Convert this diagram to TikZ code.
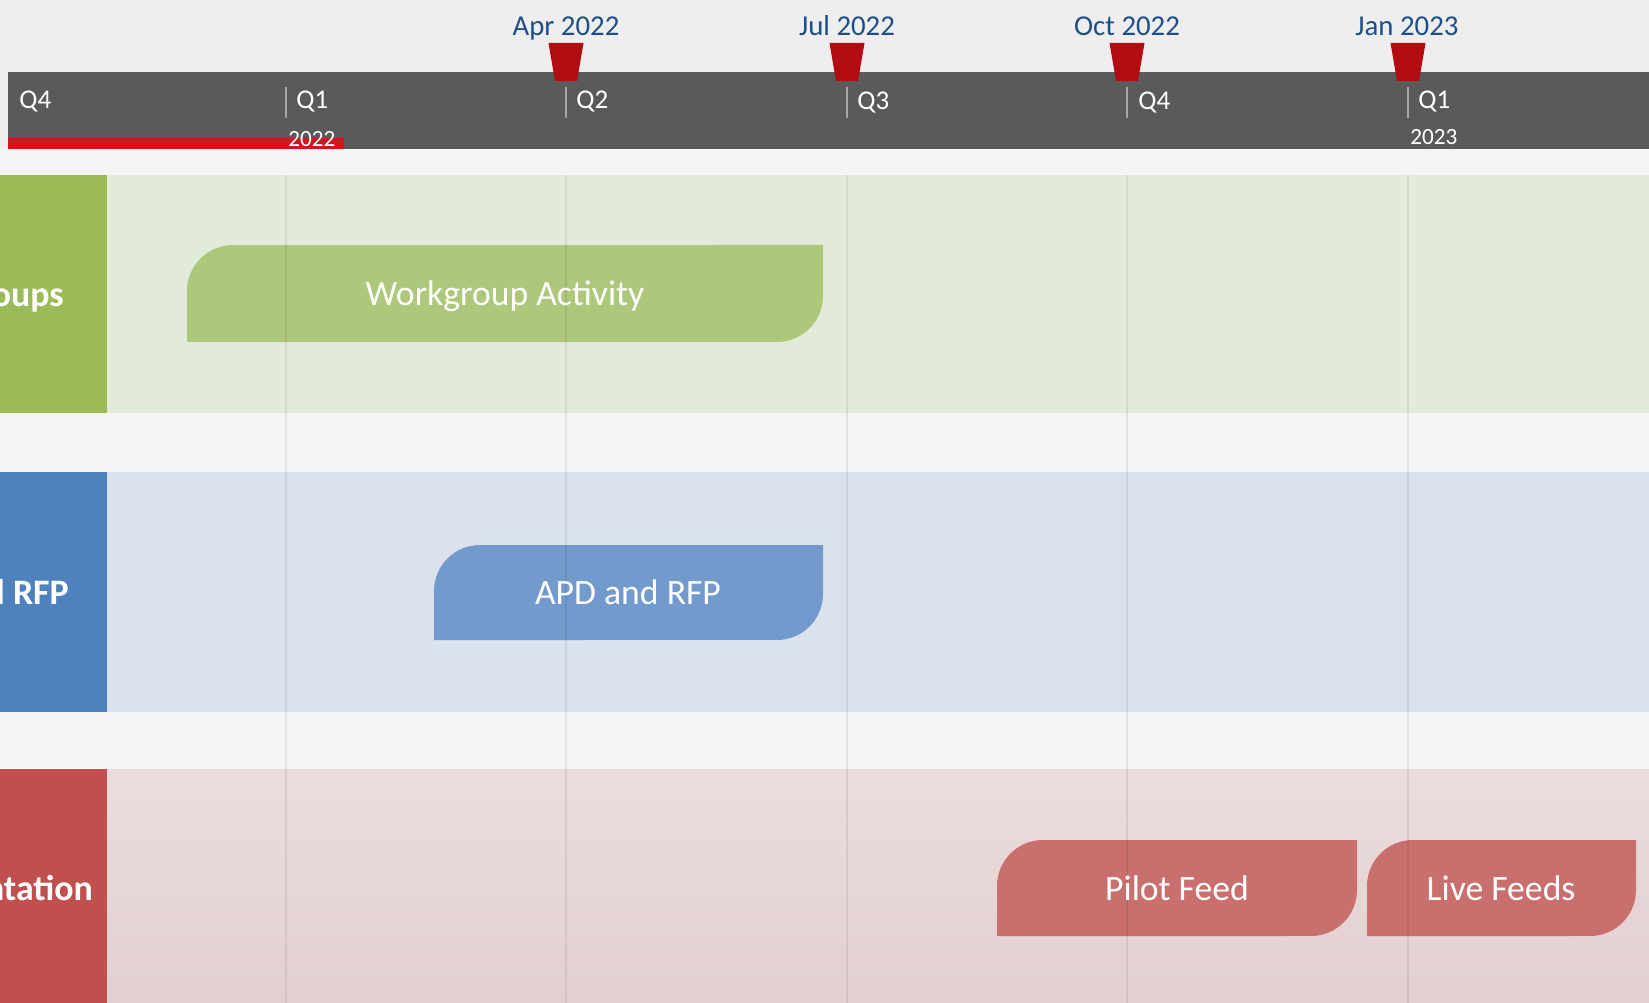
\documentclass[tikz,border=0pt]{standalone}
\usepackage{fontspec}
\setmainfont{Carlito}
\usepackage{xcolor}

\definecolor{bgtop}{HTML}{EEEEEE}
\definecolor{bggap}{HTML}{F4F4F4}
\definecolor{barback}{HTML}{5A5A5A}
\definecolor{tickgray}{HTML}{A6A6A6}
\definecolor{progred}{HTML}{D2151B}
\definecolor{markred}{HTML}{B20C12}
\definecolor{mslabel}{HTML}{1F4E86}
\definecolor{greenhead}{HTML}{9BBB59}
\definecolor{greenlane}{HTML}{E2EBDA}
\definecolor{greentask}{HTML}{ADC77B}
\definecolor{bluehead}{HTML}{4F81BD}
\definecolor{bluelane}{HTML}{DCE2ED}
\definecolor{bluetask}{HTML}{729ACD}
\definecolor{redhead}{HTML}{C0504D}
\definecolor{redlanetop}{HTML}{ECDCDC}
\definecolor{redlanebot}{HTML}{E2D0D0}
\definecolor{redtask}{HTML}{C9706E}

\tikzset{
  quarter/.style={text=white, font=\fontsize{15.4}{18}\selectfont, anchor=west, inner sep=0pt},
  yearlbl/.style={text=white, font=\fontsize{13.2}{16}\selectfont, anchor=west, inner sep=0pt},
  mslbl/.style={text=mslabel, font=\fontsize{16.4}{20}\selectfont, inner sep=0pt, anchor=base},
  lanelbl/.style={text=white, font=\bfseries\fontsize{20.4}{24}\selectfont, inner sep=0pt},
  tasklbl/.style={text=white, font=\fontsize{20.3}{24}\selectfont, inner sep=0pt},
  quartertick/.style={tickgray, line width=1.1pt},
  gridline/.style={black, opacity=0.07, line width=0.85pt},
  marker/.style={fill=markred}
}

% task bar: colour, left, right, top, bottom
\newcommand{\taskbar}[5]{%
  \fill[#1] (#2,#5) -- (#2,#4-46) arc[start angle=180, end angle=90, radius=0.92cm]
    -- (#3,#4) -- (#3,#5+46) arc[start angle=0, end angle=-90, radius=0.92cm] -- cycle;}

\begin{document}
\begin{tikzpicture}[x=0.02cm, y=0.02cm]
\useasboundingbox (0,0) rectangle (1649,-1003);
\clip (0,0) rectangle (1649,-1003);

% background
\fill[bgtop] (0,0) rectangle (1649,-1003);
\fill[bggap] (0,-149) rectangle (1649,-1003);

% time scale
\fill[barback] (8,-72) rectangle (1649,-149);
\fill[progred] (8,-138) rectangle (344,-149);
\draw[quartertick] (286,-87) -- (286,-118);
\draw[quartertick] (566,-87) -- (566,-118);
\draw[quartertick] (847,-87) -- (847,-118);
\draw[quartertick] (1127,-87) -- (1127,-118);
\draw[quartertick] (1408,-87) -- (1408,-118);
\node[quarter] (q4a) at (19,-102) {Q4};
\node[quarter] (q1a) at (296,-102) {Q1};
\node[quarter] (q2) at (576,-102) {Q2};
\node[quarter] (q3) at (857,-103) {Q3};
\node[quarter] (q4b) at (1138,-103) {Q4};
\node[quarter] (q1b) at (1418,-102) {Q1};
\node[yearlbl] (y2022) at (288,-139) {2022};
\node[yearlbl] (y2023) at (1410,-137) {2023};

% milestones
\node[mslbl] (apr) at (566,-36) {Apr 2022};
\node[mslbl] (jul) at (847,-36) {Jul 2022};
\node[mslbl] (oct) at (1127,-36) {Oct 2022};
\node[mslbl] (jan) at (1407,-36) {Jan 2023};
\fill[marker] (548.5,-43) -- (583.5,-43) -- (577,-81) -- (555,-81) -- cycle;
\fill[marker] (829.5,-43) -- (864.5,-43) -- (858,-81) -- (836,-81) -- cycle;
\fill[marker] (1109.5,-43) -- (1144.5,-43) -- (1138,-81) -- (1116,-81) -- cycle;
\fill[marker] (1390.5,-43) -- (1425.5,-43) -- (1419,-81) -- (1397,-81) -- cycle;

% swimlanes
\fill[greenlane] (107,-175) rectangle (1649,-413);
\fill[greenhead] (0,-175) rectangle (107,-413);
\fill[bluelane] (107,-472) rectangle (1649,-712);
\fill[bluehead] (0,-472) rectangle (107,-712);
\shade[top color=redlanetop, bottom color=redlanebot] (107,-769) rectangle (1649,-1003);
\fill[redhead] (0,-769) rectangle (107,-1003);
\node[lanelbl] (wg) at (-27,-297) {Workgroups};
\node[lanelbl] (apdrfp) at (-27,-592) {APD and RFP};
\node[lanelbl] (impl) at (-27,-891) {Implementation};

% tasks
\taskbar{greentask}{187}{823}{-245}{-342}
\taskbar{bluetask}{434}{823}{-545}{-640}
\taskbar{redtask}{997}{1357}{-840}{-936}
\taskbar{redtask}{1367}{1636}{-840}{-936}

% quarter grid
\draw[gridline] (286,-175) -- (286,-1003);
\draw[gridline] (566,-175) -- (566,-1003);
\draw[gridline] (847,-175) -- (847,-1003);
\draw[gridline] (1127,-175) -- (1127,-1003);
\draw[gridline] (1408,-175) -- (1408,-1003);

\node[tasklbl] (wgact) at (505,-296) {Workgroup Activity};
\node[tasklbl] (apdtask) at (628,-592) {APD and RFP};
\node[tasklbl] (pilot) at (1177,-888) {Pilot Feed};
\node[tasklbl] (live) at (1501,-888) {Live Feeds};
\end{tikzpicture}
\end{document}
